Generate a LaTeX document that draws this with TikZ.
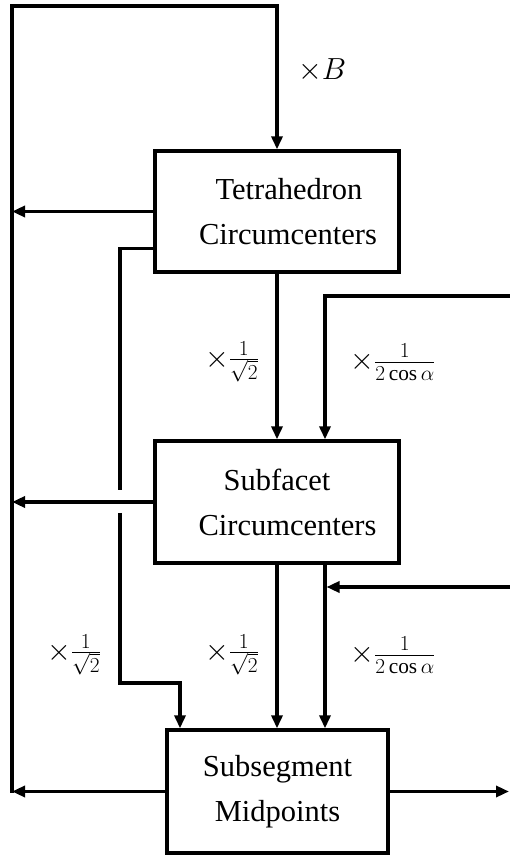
\documentclass[tikz,border=0pt]{standalone}
\usepackage{fix-cm}
\usepackage{fontspec}
\setmainfont{Liberation Serif}
\usetikzlibrary{arrows.meta, calc}

\tikzset{
  block/.style={draw, rectangle, line width=3.3pt, align=center, font=\fontsize{30.5}{45}\selectfont},
  flow/.style={line width=3.3pt, -{Triangle[length=13pt,width=11pt]}},
  wire/.style={line width=3.3pt},
  gain/.style={font=\fontsize{30.5}{36}\selectfont}
}

\begin{document}
\begin{tikzpicture}[x=1pt, y=1pt]
  \useasboundingbox (0,0) rectangle (510,855);

  % Blocks
  \node[block, minimum width=244pt, minimum height=121pt] (tet) at (277,643.5) {\hspace*{24pt}Tetrahedron\\\hspace*{22pt}Circumcenters};
  \node[block, minimum width=244pt, minimum height=122pt] (sub) at (277,353) {Subfacet\\\hspace*{21pt}Circumcenters};
  \node[block, minimum width=221pt, minimum height=123pt] (mid) at (277.5,63.5) {Subsegment\\Midpoints};

  % Bus and outside inputs
  \coordinate (topleft) at (12,849);
  \coordinate (botleft) at (12,63.5);
  \coordinate (inA) at (510,559);
  \coordinate (inB) at (510,268);
  \coordinate (out) at (509,63.5);
  \coordinate (tapB) at ([xshift=48pt]sub.south);

  % Feedback loop into the tetrahedron block
  \draw[flow] (mid.west) -- (botleft);
  \draw[flow, line cap=rect] (botleft) -- (topleft) -| (tet.north);
  \node[gain] (gB) at (322,785) {$\times B$};

  % Outputs to the bus
  \draw[flow] (tet.west) -- (tet.west -| topleft);
  \draw[flow] (sub.west) -- (sub.west -| topleft);
  \draw[flow] (mid.east) -- (out);

  % Tetrahedron to subfacet
  \draw[flow] (tet.south) -- (sub.north);
  \node[gain] (g1) at (232,493) {$\times\frac{1}{\sqrt{2}}$};
  \draw[flow] (inA) -| ([xshift=48pt]sub.north);
  \node[gain] (g2) at (393,493) {$\times\frac{1}{2\cos\alpha}$};

  % Subfacet to subsegment
  \draw[flow] (sub.south) -- (sub.south |- mid.north);
  \draw[flow] (tapB) -- (tapB |- mid.north);
  \draw[flow, shorten >=1.5pt] (inB) -- (inB -| tapB);
  \node[gain] (g3) at (232,200) {$\times\frac{1}{\sqrt{2}}$};
  \node[gain] (g4) at (393,200) {$\times\frac{1}{2\cos\alpha}$};

  % Tetrahedron straight to subsegment
  \coordinate (laneTop) at ($(tet.south west)+(0,25)$);
  \coordinate (gapHi) at (120,365);
  \coordinate (gapLo) at (120,342);
  \coordinate (bend) at (180,172);
  \draw[wire] (laneTop) -| (gapHi);
  \draw[flow] (gapLo) |- (bend) -- (bend |- mid.north);
  \node[gain] (g5) at (74,200) {$\times\frac{1}{\sqrt{2}}$};
\end{tikzpicture}
\end{document}
